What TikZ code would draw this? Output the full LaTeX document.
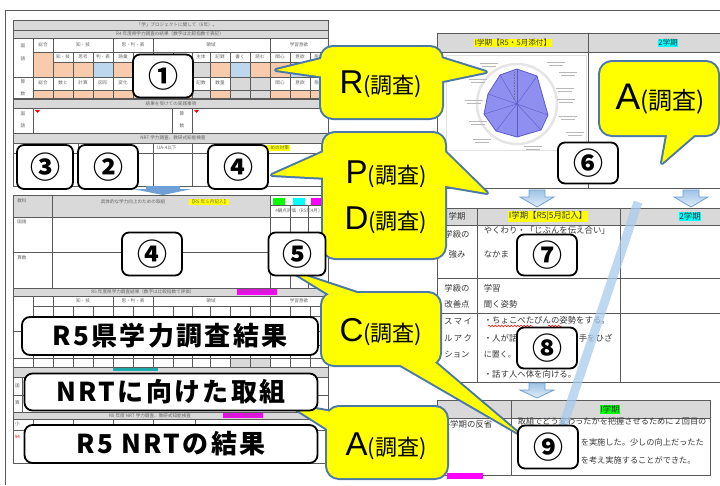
\documentclass[tikz,border=0pt]{standalone}
\usepackage{fontspec}
\setmainfont{Liberation Sans}
\newfontfamily\jp{Noto Sans CJK JP}
\newfontfamily\jpw{Noto Sans CJK JP}[LetterSpace=9]
\usetikzlibrary{decorations.pathmorphing}
\definecolor{cyel}{HTML}{FFFF00}
\definecolor{cbord}{HTML}{4A78A8}
\definecolor{hdr}{HTML}{D9D9D9}
\definecolor{peach}{HTML}{F8CBAD}
\definecolor{lblue}{HTML}{BDD7EE}
\definecolor{cgray}{HTML}{D9D9D9}
\definecolor{gridc}{HTML}{5A5A5A}
\definecolor{radar}{HTML}{8F8FF0}
\definecolor{radarline}{HTML}{5A5AC8}
\definecolor{arrtop}{HTML}{9DC3E6}
\definecolor{arrbot}{HTML}{E3EEF9}
\definecolor{arrline}{HTML}{6E9FD6}
\definecolor{band}{HTML}{A9CBEE}
\definecolor{hlg}{HTML}{00FF00}
\definecolor{hlc}{HTML}{00FFFF}
\definecolor{hlm}{HTML}{FF00FF}
\definecolor{teal}{HTML}{1FA8A8}
\newcommand\blkarrow[3]{%
  \draw[draw=arrline, top color=arrtop, bottom color=arrbot, line width=0.8]
    (#1-8,#2) -- (#1+8,#2) -- (#1+8,#2+7) -- (#1+17,#2+7) -- (#1,#3) -- (#1-17,#2+7) -- (#1-8,#2+7) -- cycle;}
\begin{document}
\begin{tikzpicture}[x=1pt,y=-1pt,
  gl/.style={draw=gridc,line width=0.6},
  hb/.style={fill=hdr,draw=gridc,line width=0.6},
  tiny/.style={font=\jp\fontsize{4.6}{5}\selectfont,text=black!60,inner sep=0},
  sm/.style={font=\jp\fontsize{8.4}{9}\selectfont,text=black!78,inner sep=0.6},
  numbox/.style={draw=black,line width=1.8,fill=white,rounded corners=7,inner sep=0,font=\jp\bfseries\fontsize{30}{30}\selectfont},
  widebox/.style={draw=black,line width=1.8,fill=white,rounded corners=8,inner sep=0,font=\jpw\bfseries\fontsize{26}{26}\selectfont},
  cedge/.style={draw=cbord,line width=4,line join=round},
  cfill/.style={fill=cyel},
  ctext/.style={inner sep=0}
]
\useasboundingbox (0,0) rectangle (720,485);
\fill[white] (0,0) rectangle (720,485);

% ===== frame =====
\draw[gridc,line width=1] (5,485) -- (5,10) -- (720,10);

% ===== LEFT SHEET =====
\draw[hb] (13,20) rectangle (328,30);
\node[tiny] (lt1) at (177,25) {「学」プロジェクトに関して（6年）。};
\draw[hb] (13,30) rectangle (328,38);
\node[tiny] (lt2) at (170,34) {R4 年度県学力調査の結果（数字は比較指数で表記）};

% grid 1 fills
\fill[peach] (33,52) rectangle (53,77);
\foreach \a/\b/\c in {53/73/peach,73/93/peach,93/113/lblue,113/133/peach,133/153/peach,153/173/peach,173/192/peach,192/210/cgray,210/230/peach,230/250/lblue,250/270/peach,270/290/peach,290/310/lblue,310/328/peach}
  \fill[\c] (\a,62) rectangle (\b,77);
\foreach \a/\b/\c in {33/53/peach,53/73/peach,73/93/peach,93/113/peach,113/133/peach,133/153/peach,153/173/peach,173/192/peach,192/210/cgray,210/230/peach,230/250/cgray,250/270/cgray,270/290/peach,290/310/peach,310/328/peach}
  \fill[\c] (\a,90) rectangle (\b,98);
\fill[cgray] (230,77) rectangle (270,90);
% grid 1 lines
\draw[gl] (13,38) rectangle (328,98);
\draw[gl] (33,52) -- (328,52) (53,62) -- (328,62) (13,77) -- (328,77) (33,90) -- (328,90);
\foreach \x in {33,53,113,153,270} \draw[gl] (\x,38) -- (\x,98);
\foreach \x in {73,93,133,173,192,210,230,250,290,310} \draw[gl] (\x,52) -- (\x,98);
\node[tiny] (g1a) at (23,46) {国};
\node[tiny] (g1b) at (23,59) {語};
\node[tiny] (g1c) at (23,82) {算};
\node[tiny] (g1d) at (23,94) {数};
\node[tiny] (g1e) at (43,45) {総合};
\node[tiny] (g1f) at (83,45) {知・技};
\node[tiny] (g1g) at (133,45) {思・判・表};
\node[tiny] (g1h) at (211,45) {領域};
\node[tiny] (g1i) at (299,45) {学習意欲};
\node[tiny] (g1j) at (43,83) {総合};
\foreach \x/\t in {63/知・技,83/思考,103/判・表,123/語彙,201/主体,220/記録,240/書く,260/読む,280/関心,300/意欲,319/態度}
  \node[tiny] at (\x,57) {\t};
\foreach \x/\t in {63/数と,83/計算,103/図形,123/変化,201/記数,220/数量,280/関心,300/意欲,319/態度}
  \node[tiny] at (\x,83) {\t};

% band: 結果を受けて
\draw[hb] (13,99) rectangle (328,108);
\node[tiny] (lt3) at (171,103.5) {結果を受けての実践事項};
\draw[gl] (13,108) rectangle (328,133);
\draw[gl] (33,108) -- (33,133) (172,108) -- (172,133) (192,108) -- (192,133);
\node[tiny] (g2a) at (23,114) {国};
\node[tiny] (g2b) at (23,126) {語};
\node[tiny] (g2c) at (182,114) {算};
\node[tiny] (g2d) at (182,126) {数};
\fill[red] (35,110) -- (40,110) -- (37.5,113) -- cycle;
\fill[red] (194,110) -- (199,110) -- (196.5,113) -- cycle;

% band: NRT
\draw[hb] (13,133) rectangle (328,143);
\node[tiny] (lt4) at (173,138) {NRT 学力調査、教研式知能検査};
\draw[gl] (13,143) rectangle (328,186);
\draw[gl] (13,153) -- (328,153);
\foreach \x in {33,78,113,153,192} \draw[gl] (\x,143) -- (\x,186);
\node[tiny,anchor=west] (g3a) at (157,148) {UA-4以下};
\fill[cyel] (228,145) rectangle (270,151.5);
\node[tiny,fill=cyel,inner sep=0.8,anchor=west] (g3b) at (269.5,148) {めの対策};

% flat arrow
\fill[arrline] (146,186) -- (180,186) -- (180,189) -- (192,189) -- (163,195) -- (133,189) -- (146,189) -- cycle;

% table 2 (left)
\fill[hdr] (13,195) rectangle (270,217);
\draw[gl] (13,195) rectangle (328,288);
\draw[gl] (52,195) -- (52,288) (270,195) -- (270,288) (290,205) -- (290,288) (308,205) -- (308,288);
\draw[gl] (13,217) -- (328,217) (13,252) -- (328,252) (270,205) -- (328,205);
\fill[hlg] (273,198) rectangle (285,205);
\fill[hlc] (293,198) rectangle (305,205);
\fill[hlm] (311,198) rectangle (323,205);
\node[tiny] (g4a) at (22,201) {教科};
\node[tiny] (g4b) at (133,202) {具体的な学力向上のための取組};
\node[tiny,fill=cyel,inner sep=0.8] (g4c) at (209,202) {【R5 年 5 月記入】};
\node[tiny] (g4d) at (299,211) {4観点評価（R5年4月）};
\node[tiny] (g4e) at (22,222) {国語};
\node[tiny] (g4f) at (22,258) {算数};

% table 3 (left)
\draw[hb] (13,288) rectangle (328,296);
\node[tiny] (g5a) at (143,292) {R5 年度県学力調査結果（数字は比較指数で評価）};
\node[tiny,fill=hlm,inner sep=0.8] (g5b) at (257,292) {【R5 年 8 月記入】};
\fill[cgray] (230,358) rectangle (270,367);
\draw[gl] (13,296) rectangle (328,367);
\draw[gl] (33,306) -- (328,306) (53,316) -- (328,316) (13,331) -- (328,331) (33,345) -- (328,345) (13,358) -- (328,358);
\foreach \x in {33,53,113,153,270} \draw[gl] (\x,296) -- (\x,367);
\foreach \x in {73,93,133,173,192,210,230,250,290,310} \draw[gl] (\x,306) -- (\x,367);
\node[tiny] (g5c) at (83,301) {知・技};
\node[tiny] (g5d) at (133,301) {思・判・表};
\node[tiny] (g5e) at (211,301) {領域};
\node[tiny] (g5f) at (299,301) {学習意欲};

% table 4 (left)
\draw[hb] (13,367) rectangle (328,377);
\fill[teal] (113,368) rectangle (158,371);
\draw[gl] (13,377) rectangle (328,412);
\draw[gl] (22,377) -- (22,412) (13,395) -- (328,395);
\node[tiny] (g6a) at (17.5,386) {国};
\node[tiny] (g6b) at (17.5,403) {算};
\draw[hb] (13,412) rectangle (328,419);
\node[tiny] (g6c) at (150,415.5) {R5 年度 NRT 学力調査、教研式知能検査};
\node[tiny,fill=hlm,inner sep=0.6] (g6d) at (243,415.5) {【R5 年 3 月記入】};
\draw[gl] (13,419) rectangle (328,463);
\draw[gl] (13,430) -- (328,430);
\foreach \x in {33,73,113,153,195} \draw[gl] (\x,419) -- (\x,463);
\node[tiny] (g6e) at (17.5,424) {小};
\node[tiny,text=red] (g6f) at (17.5,437) {94};

% ===== RIGHT SHEET =====
% table 1
\fill[hdr] (437,33) rectangle (720,52);
\draw[gl] (720,33) -- (437,33) -- (437,382);
\draw[gl] (437,52) -- (720,52) (437,188) -- (720,188) (588,33) -- (588,188);
\node[sm,fill=cyel,font=\jp\fontsize{7.6}{8}\selectfont] (rh1) at (513,43) {I学期【R5・5月添付】};
\node[sm,fill=hlc,font=\jp\fontsize{7.6}{8}\selectfont] (rh2) at (668,43) {2学期};
% radar
\draw[black!12,line width=0.6] (446,55) rectangle (586,150);
\coordinate (rc) at (517,104);
\draw[black!10,line width=2.5] (rc) circle (40);
\filldraw[fill=radar,draw=radarline,line width=0.8] (517,69) -- (537,76) -- (548,115) -- (541,130) -- (517,137) -- (496,131) -- (484,114) -- (488,94) -- (500,75) -- cycle;
\foreach \p in {(517,69),(537,76),(548,115),(541,130),(517,137),(496,131),(484,114),(488,94),(500,75)}
  \draw[radarline,line width=0.4] (rc) -- \p;
\draw[black!55,densely dotted,line width=0.6] (514,72) -- (514,100);
\foreach \lx/\ly in {556/63,568/73,565/89,566/100,568/117,575/133,572/143,533/147,482/140,478/122,474/101,478/80,489/64}
  {\fill[black!28] (\lx-9,\ly-1) rectangle (\lx+9,\ly+0.3);
   \fill[black!28] (\lx-7,\ly+2) rectangle (\lx+7,\ly+3.3);}

% blue arrows
\blkarrow{537}{190}{207}
\blkarrow{691}{190}{207}

% table 2
\fill[hdr] (437,208) rectangle (720,225);
\draw[gl] (437,208) -- (720,208) (437,225) -- (720,225) (437,278) -- (720,278) (437,313) -- (720,313) (437,382) -- (720,382);
\draw[gl] (477,208) -- (477,382) (620,208) -- (620,382);
\node[sm] (r2a) at (457,216.5) {学期};
\node[sm,fill=cyel] (r2b) at (548,216.5) {I学期【R5|5月記入】};
\node[sm,fill=hlc] (r2c) at (690,216.5) {2学期};
\node[sm] (r2d) at (457,234) {学級の};
\node[sm] (r2e) at (457,254) {強み};
\node[sm,anchor=west] (r2f) at (483,230) {やくわり・「じぶんを伝え合い」};
\node[sm,anchor=west] (r2g) at (483,254) {なかま};
\node[sm] (r2h) at (457,288) {学級の};
\node[sm] (r2i) at (457,304) {改善点};
\node[sm,anchor=west] (r2j) at (483,288) {学習};
\node[sm,anchor=west] (r2k) at (483,304) {聞く姿勢};
\node[sm] (r2l) at (458,321) {ス\,マ\,イ};
\node[sm] (r2m) at (458,338) {ル\,ア\,ク};
\node[sm] (r2n) at (457,355) {ション};
\node[sm,anchor=west] (r2o) at (483,320.5) {・ちょこぺたぴんの姿勢をする。};
\node[sm,anchor=west] (r2p) at (483,338) {・人が話};
\node[sm,anchor=west] (r2p2) at (578,338) {手をひざ};
\node[sm,anchor=west,font=\jp\fontsize{8}{9}\selectfont] (r2q) at (483,355) {に置く。};
\node[sm,anchor=west] (r2r) at (483,374) {・話す人へ体を向ける。};
\draw[red,line width=0.5,decorate,decoration={snake,amplitude=0.9,segment length=3.2}] (488,326) -- (533,326);
\draw[red,line width=0.5,decorate,decoration={snake,amplitude=0.9,segment length=3.2}] (548,326) -- (562,326);

\blkarrow{537}{383}{398}

% table 3
\fill[hdr] (437,400) rectangle (710,418);
\draw[gl] (437,400) rectangle (710,475);
\draw[gl] (437,418) -- (710,418) (511,400) -- (511,475);
\node[sm,fill=hlg] (r3a) at (610,409) {I学期};
\node[sm,anchor=west] (r3b) at (441,424) {各学期の反省};
\node[sm,anchor=west,font=\jp\fontsize{8.2}{9}\selectfont] (r3c) at (517,421.5) {取組でどう変わったかを把握させるために２回目の};
\node[sm,anchor=west,font=\jp\fontsize{8.2}{9}\selectfont] (r3d) at (580,442) {を実施した。少しの向上だったた};
\node[sm,anchor=west,font=\jp\fontsize{8.2}{9}\selectfont] (r3e) at (580,460) {を考え実施することができた。};
\fill[hlm] (447,473) rectangle (483,479);

% diagonal light-blue band
\draw[band,opacity=0.75,line width=9] (638,202) -- (561,432);

% ===== CALLOUTS =====
% outlines
\draw[cedge,rounded corners=12] (321,47) rectangle (442,118);
\draw[cedge] (325,58) -- (276,70) -- (325,77) -- cycle;
\draw[cedge] (438,57) -- (486,72) -- (438,82) -- cycle;
\draw[cedge,rounded corners=12] (323,133) rectangle (445,258);
\draw[cedge] (328,150) -- (272,175) -- (328,178) -- cycle;
\draw[cedge] (440,147) -- (487,193) -- (440,185) -- cycle;
\draw[cedge,rounded corners=12] (322,293) rectangle (440,365);
\draw[cedge] (335,298) -- (291,271) -- (372,298) -- cycle;
\draw[cedge] (392,360) -- (518,433) -- (432,360) -- cycle;
\draw[cedge,rounded corners=12] (327,407) rectangle (447,478);
\draw[cedge] (332,412) -- (288,404) -- (332,432) -- cycle;
\draw[cedge,rounded corners=12] (600,62) rectangle (718,135);
\draw[cedge] (668,130) -- (662,163) -- (700,130) -- cycle;
% fills
\fill[cfill,rounded corners=12] (321,47) rectangle (442,118);
\fill[cfill] (325,58) -- (276,70) -- (325,77) -- cycle;
\fill[cfill] (438,57) -- (486,72) -- (438,82) -- cycle;
\fill[cfill,rounded corners=12] (323,133) rectangle (445,258);
\fill[cfill] (328,150) -- (272,175) -- (328,178) -- cycle;
\fill[cfill] (440,147) -- (487,193) -- (440,185) -- cycle;
\fill[cfill,rounded corners=12] (322,293) rectangle (440,365);
\fill[cfill] (335,298) -- (291,271) -- (372,298) -- cycle;
\fill[cfill] (392,360) -- (518,433) -- (432,360) -- cycle;
\fill[cfill,rounded corners=12] (327,407) rectangle (447,478);
\fill[cfill] (332,412) -- (288,404) -- (332,432) -- cycle;
\fill[cfill,rounded corners=12] (600,62) rectangle (718,135);
\fill[cfill] (668,130) -- (662,163) -- (700,130) -- cycle;
% callout texts
\node[ctext] (cR) at (381,84) {\fontsize{33}{33}\selectfont R\jp\fontsize{22}{22}\selectfont(調査)};
\node[ctext] (cP) at (386,174) {\fontsize{33}{33}\selectfont P\jp\fontsize{22}{22}\selectfont(調査)};
\node[ctext] (cD) at (386,220) {\fontsize{33}{33}\selectfont D\jp\fontsize{22}{22}\selectfont(調査)};
\node[ctext] (cC) at (381,332) {\fontsize{33}{33}\selectfont C\jp\fontsize{22}{22}\selectfont(調査)};
\node[ctext] (cA1) at (386,446) {\fontsize{33}{33}\selectfont A\jp\fontsize{22}{22}\selectfont(調査)};
\node[ctext] (cA2) at (660,99) {\fontsize{37}{37}\selectfont A\jp\fontsize{24}{24}\selectfont(調査)};

% ===== NUMBER BOXES =====
\node[numbox,minimum width=60,minimum height=43] (n1) at (163,76) {①};
\node[numbox,minimum width=56,minimum height=44] (n3) at (45,167) {③};
\node[numbox,minimum width=60,minimum height=44] (n2) at (108,167) {②};
\node[numbox,minimum width=60,minimum height=44] (n4a) at (238,167) {④};
\node[numbox,minimum width=60,minimum height=43] (n4b) at (152,254) {④};
\node[numbox,minimum width=57,minimum height=43] (n5) at (297,254) {⑤};
\node[numbox,minimum width=60,minimum height=41] (n6) at (588,163) {⑥};
\node[numbox,minimum width=60,minimum height=41] (n7) at (547,255) {⑦};
\node[numbox,minimum width=60,minimum height=41] (n8) at (547,348) {⑧};
\node[numbox,minimum width=60,minimum height=43] (n9) at (548,447) {⑨};

% ===== WIDE BOXES =====
\node[widebox,minimum width=296,minimum height=38] (w1) at (170,336) {R5県学力調査結果};
\node[widebox,minimum width=293,minimum height=37] (w2) at (171,392) {NRTに向けた取組};
\node[widebox,minimum width=293,minimum height=38] (w3) at (171,444) {R5 NRTの結果};
\end{tikzpicture}
\end{document}
